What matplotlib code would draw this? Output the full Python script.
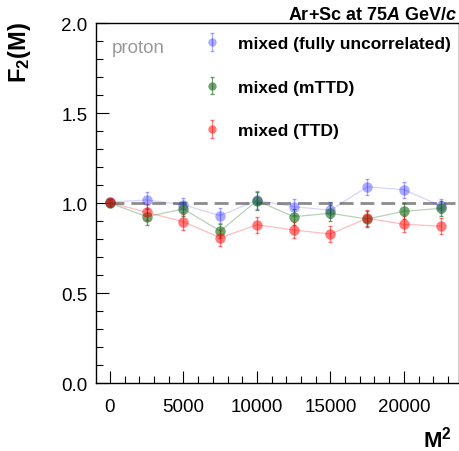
import numpy as np
import matplotlib
matplotlib.use("Agg")
import matplotlib.pyplot as plt
from matplotlib.ticker import MultipleLocator

plt.rcParams['font.family'] = ['Liberation Sans', 'DejaVu Sans']
plt.rcParams['mathtext.fontset'] = 'custom'
plt.rcParams['mathtext.rm'] = 'Liberation Sans:bold'
plt.rcParams['mathtext.bf'] = 'Liberation Sans:bold'
plt.rcParams['mathtext.it'] = 'Liberation Sans:bold:italic'

# data
m2 = [0, 2500, 5000, 7500, 10000, 12500, 15000, 17500, 20000, 22500]
f2_uncorr = [1.005, 1.017, 0.990, 0.930, 1.015, 0.980, 0.960, 1.090, 1.074, 0.985]
err_uncorr = [0.02, 0.045, 0.04, 0.04, 0.05, 0.045, 0.045, 0.045, 0.045, 0.04]
f2_mttd = [1.0, 0.924, 0.967, 0.844, 1.013, 0.924, 0.943, 0.911, 0.954, 0.970]
err_mttd = [0.02, 0.045, 0.04, 0.04, 0.05, 0.045, 0.045, 0.045, 0.045, 0.04]
f2_ttd = [1.003, 0.948, 0.896, 0.807, 0.879, 0.850, 0.828, 0.915, 0.882, 0.871]
err_ttd = [0.02, 0.045, 0.045, 0.045, 0.045, 0.045, 0.045, 0.045, 0.045, 0.045]

labels = ['mixed (fully uncorrelated)', 'mixed (mTTD)', 'mixed (TTD)']
colors = ['#0000ff', '#1a6b1a', '#ff0000']
alphas = [0.33, 0.62, 0.52]

fig = plt.figure(figsize=(4.6, 4.52), dpi=100)
ax = fig.add_axes([0.2087, 0.1504, 0.789, 0.7965])

ax.hlines(1.0, 0, 23500, colors='#8c8c8c', linestyles=(0, (5, 2.5)), lw=2, zorder=1)

handles = []
for y, e, c, a, lab in zip([f2_uncorr, f2_mttd, f2_ttd], [err_uncorr, err_mttd, err_ttd],
                           colors, alphas, labels):
    ax.plot(m2, y, color=c, alpha=a * 0.5, lw=0.9, zorder=2)
    h = ax.errorbar(m2, y, yerr=e, fmt='o', color=c, alpha=a, ms=7.5, mec='none',
                    elinewidth=0.9, capsize=1.5, zorder=3, label=lab)
    handles.append(h)

ax.set_xlim(-950, 23750)
ax.set_ylim(0, 2.0)
ax.xaxis.set_major_locator(MultipleLocator(5000))
ax.xaxis.set_minor_locator(MultipleLocator(1000))
ax.yaxis.set_major_locator(MultipleLocator(0.5))
ax.yaxis.set_minor_locator(MultipleLocator(0.1))
ax.yaxis.set_major_formatter(plt.FormatStrFormatter('%.1f'))
ax.tick_params(which='both', direction='in', top=False, right=False, width=0.8)
ax.tick_params(which='major', length=9)
ax.tick_params(which='minor', length=5)
ax.tick_params(axis='x', pad=11, labelsize=13.5)
ax.tick_params(axis='y', pad=6, labelsize=13.5)
for s in ax.spines.values():
    s.set_linewidth(1.0)

leg = ax.legend(handles=handles, labels=labels, loc='upper left',
                bbox_to_anchor=(0.441, 0.918), bbox_transform=fig.transFigure,
                frameon=False, prop={'weight': 'bold', 'size': 12.5},
                handlelength=1.0, handletextpad=1.05, labelspacing=1.63,
                markerscale=0.8, borderpad=0, borderaxespad=0)

ax.text(0.043, 0.933, 'proton', transform=ax.transAxes, color='#999999',
        fontsize=13.5, ha='left', va='center')

fig.text(0.994, 1 - 15 / 452, r'Ar+Sc at 75$A$ GeV/$c$', ha='right', va='center',
         fontsize=13, fontweight='bold')
fig.text(0.043, 1 - 53 / 452, r'F$_2$(M)', rotation=90, ha='center', va='center',
         fontsize=17, fontweight='bold')
fig.text(0.982, 1 - 440 / 452, r'M$^2$', ha='right', va='center',
         fontsize=16, fontweight='bold')

fig.savefig('out.png', dpi=100)
